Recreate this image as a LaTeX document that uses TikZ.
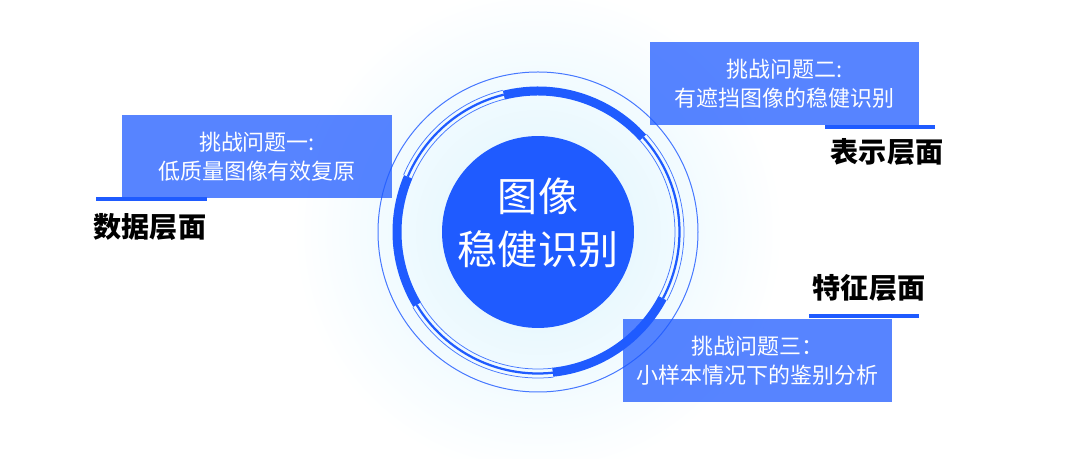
\documentclass[tikz,border=0pt]{standalone}
\usepackage{fontspec}
\newfontfamily\cjk{Noto Sans CJK SC}
\definecolor{coreblue}{RGB}{31,91,255}
\definecolor{ringblue}{RGB}{70,120,255}
\definecolor{glow}{RGB}{220,244,254}
\tikzset{
  challengebox/.style={fill=coreblue, fill opacity=0.75, text opacity=1, text=white,
    minimum width=5.4cm, minimum height=1.66cm, inner sep=0pt, align=center,
    font=\cjk\fontsize{12.5}{16.5}\selectfont},
  layerlabel/.style={text=black, inner sep=0pt, font=\cjk\bfseries\fontsize{16}{19}\selectfont},
  underbar/.style={coreblue, line width=0.08cm},
}
\begin{document}
\begin{tikzpicture}[x=0.02cm, y=0.02cm]
    \useasboundingbox (0,0) rectangle (1080,459);
    \coordinate (core) at (538,227);
    % glow and rings
    \shade[inner color=glow, outer color=white] (core) circle (245);
    \draw[ringblue, line width=0.02cm] (core) circle (160);
    \foreach \a/\b in {42/104,-84/-28,157/211}
        \draw[coreblue, line width=0.18cm] ([shift={(\a:141)}]core) arc (\a:\b:141);
    \foreach \a/\b in {104/157,-28/42,211/276} {
        \draw[ringblue, line width=0.015cm] ([shift={(\a:146)}]core) arc (\a:\b:146);
        \draw[coreblue, line width=0.045cm] ([shift={(\a:141.5)}]core) arc (\a:\b:141.5);
        \draw[ringblue, line width=0.015cm] ([shift={(\a:137)}]core) arc (\a:\b:137);
    }
    \node[circle, fill=coreblue, minimum size=3.84cm, inner sep=0pt] (hub) at (core) {};
    \node[text=white, align=center, font=\cjk\fontsize{22.8}{30.2}\selectfont] (title) at (538,236) {图像\\稳健识别};
    % challenges
    \node[challengebox] (chalA) at (257,302.5) {挑战问题一:\\低质量图像有效复原};
    \node[challengebox] (chalB) at (784.5,375) {挑战问题二:\\有遮挡图像的稳健识别};
    \node[challengebox] (chalC) at (757.5,98.5) {挑战问题三：\\小样本情况下的鉴别分析};
    \draw[underbar] (96,259.5) -- (207,259.5);
    \draw[underbar] (825,332) -- (935,332);
    \draw[underbar] (809,143) -- (919,143);
    % levels
    \node[layerlabel] (dataL) at (150,232) {数据层面};
    \node[layerlabel] (reprL) at (887,307) {表示层面};
    \node[layerlabel] (featL) at (869,171) {特征层面};
\end{tikzpicture}
\end{document}
